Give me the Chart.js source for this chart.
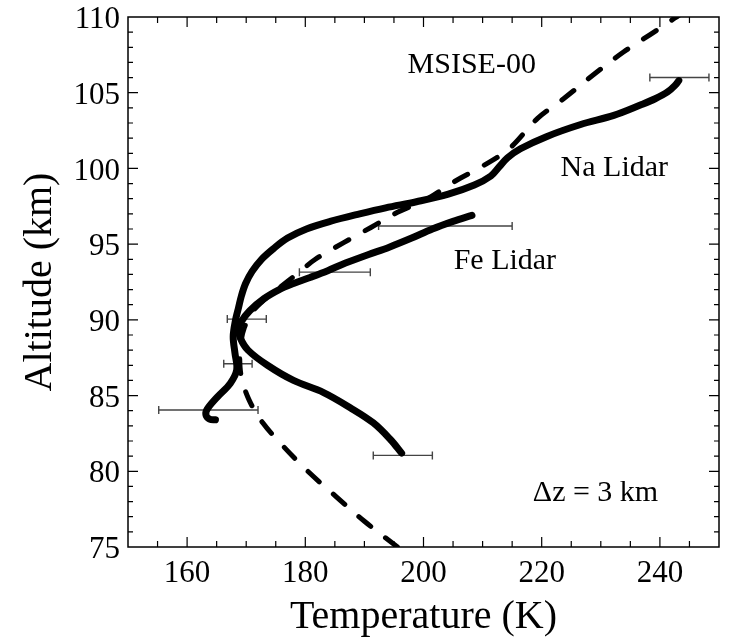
<!DOCTYPE html>
<html>
<head>
<meta charset="utf-8">
<script src="https://cdn.jsdelivr.net/npm/chart.js@4.4.0/dist/chart.umd.min.js"></script>
<style>
    html, body { margin: 0; padding: 0; background: #fff; }
    #wrap { width: 730px; height: 637px; }
</style>
</head>
<body>
<div id="wrap"><canvas id="chartCanvas"></canvas></div>
<script>
// Na lidar temperature profile (K vs km)
const naTemp = [243.2, 242.6, 241.3, 239.2, 236.8, 232.2, 226.6, 220.8, 216.4, 214.2, 212.8, 211.4, 208.6, 204.2, 198.8, 193.6, 189.2, 184.2, 180.2, 177.0, 174.6, 172.6, 171.0, 169.9, 169.2, 168.7, 168.2, 167.8, 168.1, 168.4, 167.3, 165.1, 163.4, 163.2, 163.8, 164.8];
const naAlt = [105.8, 105.5, 105.05, 104.6, 104.2, 103.5, 102.9, 102.1, 101.3, 100.7, 100.1, 99.5, 98.9, 98.3, 97.8, 97.4, 97.0, 96.5, 96.0, 95.4, 94.7, 94.0, 93.2, 92.4, 91.6, 90.8, 90.0, 88.9, 87.8, 86.7, 85.8, 84.9, 84.1, 83.7, 83.45, 83.4];

// Fe lidar
const feTemp = [208.2, 205.0, 201.5, 198.0, 194.2, 190.6, 186.8, 183.8, 180.8, 178.0, 175.6, 173.0, 170.6, 169.2, 168.7, 169.0, 170.3, 173.6, 178.0, 183.1, 187.6, 191.5, 194.4, 196.3];
const feAlt = [96.9, 96.5, 96.0, 95.4, 94.8, 94.3, 93.75, 93.25, 92.8, 92.4, 92.0, 91.4, 90.6, 89.9, 89.4, 88.8, 88.0, 87.0, 86.0, 85.2, 84.2, 83.2, 82.1, 81.2];

// MSISE-00 model
const msisTemp = [195.6, 190.0, 185.3, 180.7, 176.4, 172.8, 170.5, 169.2, 168.9, 169.1, 169.7, 171.0, 173.0, 175.9, 178.8, 181.7, 186.5, 191.1, 195.6, 200.7, 205.1, 210.2, 214.5, 219.3, 223.7, 228.8, 233.9, 239.0, 242.4, 243.2];
const msisAlt = [75.0, 76.7, 78.3, 79.9, 81.6, 83.2, 84.7, 86.2, 87.5, 88.5, 89.5, 90.5, 91.3, 92.2, 93.1, 94.0, 95.1, 96.1, 97.1, 98.0, 99.1, 100.2, 101.3, 103.3, 104.6, 106.2, 107.7, 109.0, 109.9, 110.1];

// error bars: altitude, centre temperature, half width
const errAlt = [106.0, 96.2, 93.15, 90.05, 87.1, 84.05, 81.05];
const errMid = [243.3, 203.7, 185.0, 170.1, 168.6, 163.6, 196.5];
const errHalf = [5.0, 11.3, 6.0, 3.3, 2.4, 8.4, 5.0];

const xTicks = [160, 180, 200, 220, 240];
const yTicks = [75, 80, 85, 90, 95, 100, 105, 110];

const noteText = ['MSISE-00', 'Na Lidar', 'Fe Lidar', 'Δz = 3 km'];
const noteTemp = [197.3, 223.2, 205.1, 218.5];
const noteAlt = [106.8, 100.05, 93.9, 78.55];

const serif = '"Liberation Serif", "DejaVu Serif", serif';

function toPoints(xs, ys) {
    return xs.map((x, i) => ({ x: x, y: ys[i] }));
}

const errorBars = {
    id: 'errorBars',
    beforeDatasetsDraw(chart) {
        const { ctx, scales: { x, y } } = chart;
        ctx.save();
        ctx.strokeStyle = '#444';
        ctx.lineWidth = 1.4;
        for (let i = 0; i < errAlt.length; i++) {
            const py = y.getPixelForValue(errAlt[i]);
            const x0 = x.getPixelForValue(errMid[i] - errHalf[i]);
            const x1 = x.getPixelForValue(errMid[i] + errHalf[i]);
            ctx.beginPath();
            ctx.moveTo(x0, py); ctx.lineTo(x1, py);
            ctx.moveTo(x0, py - 4); ctx.lineTo(x0, py + 4);
            ctx.moveTo(x1, py - 4); ctx.lineTo(x1, py + 4);
            ctx.stroke();
        }
        ctx.restore();
    }
};

// box round the plot with inward ticks on all four sides
const frame = {
    id: 'frame',
    afterDraw(chart) {
        const { ctx, chartArea: a, scales: { x, y } } = chart;
        ctx.save();
        ctx.strokeStyle = '#000';
        ctx.lineWidth = 1.5;
        ctx.strokeRect(a.left, a.top, a.right - a.left, a.bottom - a.top);
        ctx.lineWidth = 1.2;
        ctx.beginPath();
        for (let v = x.min + 5; v < x.max; v += 5) {
            const px = x.getPixelForValue(v);
            const len = xTicks.includes(v) ? 10 : 6;
            ctx.moveTo(px, a.bottom); ctx.lineTo(px, a.bottom - len);
            ctx.moveTo(px, a.top); ctx.lineTo(px, a.top + len);
        }
        for (let v = y.min + 1; v < y.max; v += 1) {
            const py = y.getPixelForValue(v);
            const len = v % 5 === 0 ? 10 : 5;
            ctx.moveTo(a.left, py); ctx.lineTo(a.left + len, py);
            ctx.moveTo(a.right, py); ctx.lineTo(a.right - len, py);
        }
        ctx.stroke();

        ctx.fillStyle = '#000';
        ctx.font = '30px ' + serif;
        ctx.textAlign = 'left';
        ctx.textBaseline = 'middle';
        noteText.forEach((t, i) => {
            ctx.fillText(t, x.getPixelForValue(noteTemp[i]), y.getPixelForValue(noteAlt[i]));
        });
        ctx.restore();
    }
};

const solid = {
    showLine: true,
    borderColor: '#000',
    borderWidth: 7,
    borderCapStyle: 'round',
    borderJoinStyle: 'round',
    pointRadius: 0,
    tension: 0.35,
    fill: false
};

new Chart(document.getElementById('chartCanvas').getContext('2d'), {
    type: 'scatter',
    data: {
        datasets: [
            Object.assign({ label: 'Na Lidar', data: toPoints(naTemp, naAlt) }, solid),
            Object.assign({ label: 'Fe Lidar', data: toPoints(feTemp, feAlt) }, solid),
            {
                label: 'MSISE-00',
                data: toPoints(msisTemp, msisAlt),
                showLine: true,
                borderColor: '#000',
                borderWidth: 5,
                borderDash: [15, 19],
                borderCapStyle: 'round',
                pointRadius: 0,
                tension: 0.35,
                fill: false
            }
        ]
    },
    options: {
        responsive: true,
        maintainAspectRatio: false,
        animation: false,
        layout: { padding: { top: 17, right: 11, left: 0, bottom: 0 } },
        plugins: {
            legend: { display: false },
            tooltip: { enabled: false }
        },
        scales: {
            x: {
                type: 'linear',
                min: 150,
                max: 250,
                afterBuildTicks: s => { s.ticks = xTicks.map(v => ({ value: v })); },
                afterFit: s => { s.height = 90; s.paddingLeft = 0; s.paddingRight = 0; },
                grid: { display: false, drawTicks: false },
                border: { display: false },
                ticks: { color: '#000', padding: 8, font: { family: serif, size: 31 } },
                title: {
                    display: true,
                    text: 'Temperature (K)',
                    color: '#000',
                    padding: { top: 0, bottom: -4 },
                    font: { family: serif, size: 40, lineHeight: 1.2 }
                }
            },
            y: {
                type: 'linear',
                min: 75,
                max: 110,
                afterBuildTicks: s => { s.ticks = yTicks.map(v => ({ value: v })); },
                afterFit: s => { s.width = 128; s.paddingTop = 0; s.paddingBottom = 0; },
                grid: { display: false, drawTicks: false },
                border: { display: false },
                ticks: { color: '#000', padding: 8, labelOffset: 3, font: { family: serif, size: 31 } },
                title: {
                    display: true,
                    text: 'Altitude (km)',
                    color: '#000',
                    padding: { top: 16, bottom: 0 },
                    font: { family: serif, size: 40, lineHeight: 1.2 }
                }
            }
        }
    },
    plugins: [errorBars, frame]
});
</script>
</body>
</html>
